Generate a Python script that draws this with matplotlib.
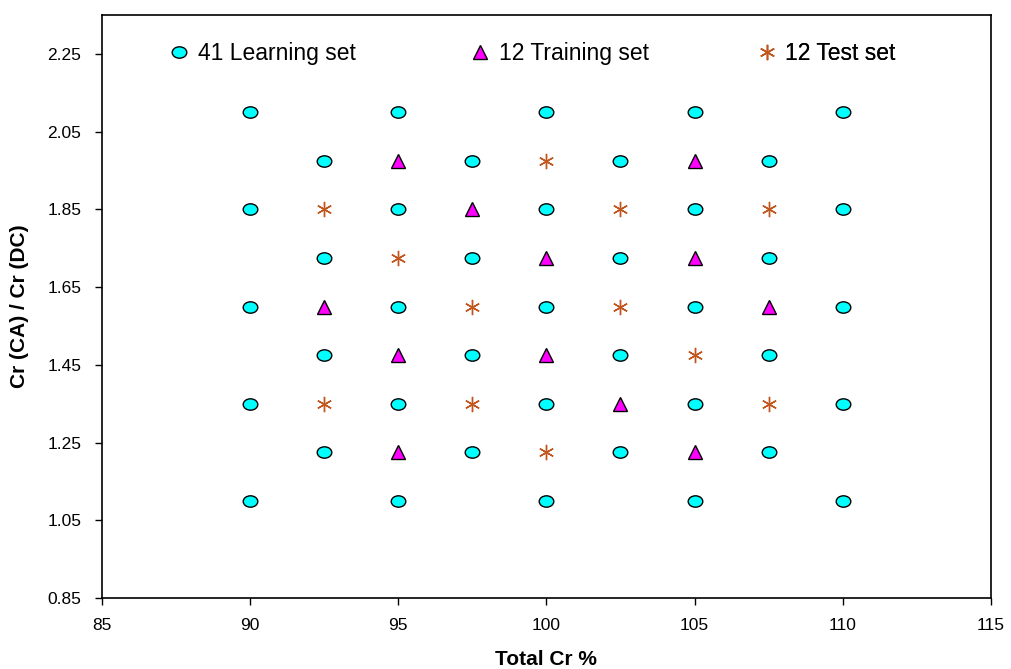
import matplotlib
matplotlib.use("Agg")
import matplotlib.pyplot as plt
from matplotlib.path import Path
from matplotlib.lines import Line2D
import numpy as np

plt.rcParams['font.family'] = ['Liberation Sans', 'DejaVu Sans']

learn_x = [90, 95, 100, 105, 110,
           92.5, 97.5, 102.5, 107.5,
           90, 95, 100, 105, 110,
           92.5, 97.5, 102.5, 107.5,
           90, 95, 100, 105, 110,
           92.5, 97.5, 102.5, 107.5,
           90, 95, 100, 105, 110,
           92.5, 97.5, 102.5, 107.5,
           90, 95, 100, 105, 110]
learn_y = [2.1] * 5 + [1.975] * 4 + [1.85] * 5 + [1.725] * 4 + [1.6] * 5 + \
          [1.475] * 4 + [1.35] * 5 + [1.225] * 4 + [1.1] * 5

train_x = [95, 105, 97.5, 100, 105, 92.5, 107.5, 95, 100, 102.5, 95, 105]
train_y = [1.975, 1.975, 1.85, 1.725, 1.725, 1.6, 1.6, 1.475, 1.475, 1.35, 1.225, 1.225]

test_x = [100, 92.5, 102.5, 107.5, 95, 97.5, 102.5, 105, 92.5, 97.5, 107.5, 100]
test_y = [1.975, 1.85, 1.85, 1.85, 1.725, 1.6, 1.6, 1.475, 1.35, 1.35, 1.35, 1.225]

labels = ["41 Learning set", "12 Training set", "12 Test set"]
x_ticks = [85, 90, 95, 100, 105, 110, 115]
y_ticks = [0.85, 1.05, 1.25, 1.45, 1.65, 1.85, 2.05, 2.25]

fig = plt.figure(figsize=(10.12, 6.69), dpi=100)
ax = fig.add_axes([0.1008, 0.1061, 0.979 - 0.1008, 0.9776 - 0.1061])

circ = Path.unit_circle()
ell = Path(circ.vertices * np.array([1.0, 0.78]), circ.codes)

cyan = '#00FFFF'
mag = '#FF00FF'
brown = '#C0561E'

ax.plot(learn_x, learn_y, linestyle='none', marker=ell, markersize=10.5,
        markerfacecolor=cyan, markeredgecolor='black', markeredgewidth=1.0)
ax.plot(train_x, train_y, linestyle='none', marker='^', markersize=10,
        markerfacecolor=mag, markeredgecolor='black', markeredgewidth=1.0)
ax.plot(test_x, test_y, linestyle='none', marker=(6, 2, 0), markersize=11,
        markerfacecolor=brown, markeredgecolor=brown, markeredgewidth=1.0)

ax.set_xlim(85, 115)
ax.set_ylim(0.85, 2.35)
ax.set_xticks(x_ticks)
ax.set_xticklabels([str(v) for v in x_ticks])
ax.set_yticks(y_ticks)
ax.set_yticklabels([f"{v:.2f}" for v in y_ticks])
ax.tick_params(direction='out', length=5, width=1, labelsize=12.5, colors='black')
ax.tick_params(axis='x', pad=9.5)
ax.tick_params(axis='y', pad=10)
for s in ax.spines.values():
    s.set_linewidth(1.2)

ax.set_xlabel("Total Cr %", fontsize=15, fontweight='bold', labelpad=12)
ax.set_ylabel("Cr (CA) / Cr (DC)", fontsize=15, fontweight='bold', labelpad=13)

handles = [
    Line2D([], [], linestyle='none', marker=ell, markersize=10.5,
           markerfacecolor=cyan, markeredgecolor='black', markeredgewidth=1.0),
    Line2D([], [], linestyle='none', marker='^', markersize=10,
           markerfacecolor=mag, markeredgecolor='black', markeredgewidth=1.0),
    Line2D([], [], linestyle='none', marker=(6, 2, 0), markersize=11,
           markerfacecolor=brown, markeredgecolor=brown, markeredgewidth=1.0),
]
# legend marker centers ~ 179, 480, 767 px
xs = [(179 - 102) / 889, (480 - 102) / 889, (767 - 102) / 889]
yleg = (2.25 - 0.85) / 1.5
for h, lab, xx in zip(handles, labels, xs):
    lg = ax.legend([h], [lab], loc='center left', bbox_to_anchor=(xx - 0.0125, yleg),
                   frameon=False, fontsize=16.5, handlelength=1.0, handletextpad=0.3,
                   borderpad=0, borderaxespad=0)
    ax.add_artist(lg)

fig.savefig("out.png", dpi=100)
